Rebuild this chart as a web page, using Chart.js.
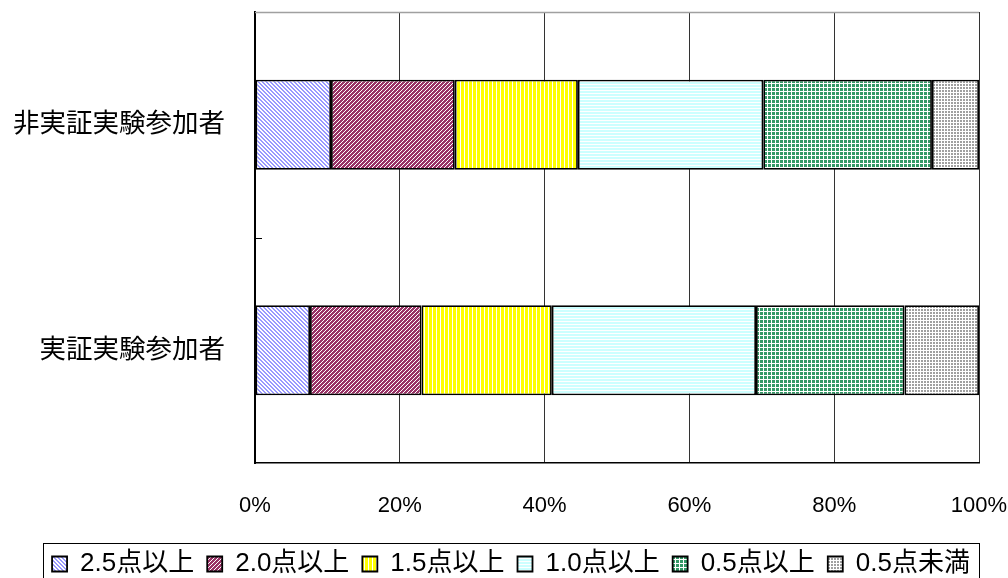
<!DOCTYPE html>
<html lang="ja">
<head>
<meta charset="utf-8">
<title>得点分布</title>
<script src="https://cdn.jsdelivr.net/npm/chart.js@4.4.1/dist/chart.umd.min.js"></script>
<style>
  html, body { margin: 0; padding: 0; background: #fff; }
  #wrap { width: 1008px; height: 578px; }
</style>
</head>
<body>
<div id="wrap"><canvas id="c" width="1008" height="578"></canvas></div>
<script>
// Categories (rows) and score bands (stack segments), values in percent
const categories = ['非実証実験参加者', '実証実験参加者'];
const seriesNames = ['2.5点以上', '2.0点以上', '1.5点以上', '1.0点以上', '0.5点以上', '0.5点未満'];
const score25 = [10.5, 7.6];
const score20 = [17.1, 15.4];
const score15 = [17.0, 18.0];
const score10 = [25.6, 28.2];
const score05 = [23.3, 20.5];
const scoreBelow05 = [6.5, 10.3];
const xTickValues = [0, 20, 40, 60, 80, 100];

// Small pixel tiles used as hatch fills
function makePattern(size, fg, bg, test) {
  const c = document.createElement('canvas');
  c.width = size; c.height = size;
  const g = c.getContext('2d');
  g.fillStyle = bg; g.fillRect(0, 0, size, size);
  g.fillStyle = fg;
  for (let y = 0; y < size; y++) {
    for (let x = 0; x < size; x++) {
      if (test(x, y)) g.fillRect(x, y, 1, 1);
    }
  }
  return g.createPattern(c, 'repeat');
}

const ctx = document.getElementById('c').getContext('2d');
const fills = [
  makePattern(4, '#9999ff', '#ffffff', (x, y) => ((x - y + 8) % 4) < 2),
  makePattern(4, '#993366', '#ffffff', (x, y) => ((x + y) % 4) < 3),
  makePattern(4, '#ffff00', '#ffffff', (x, y) => (x % 4) !== 0),
  makePattern(3, '#ccffff', '#ffffff', (x, y) => (y % 3) !== 0),
  makePattern(4, '#339966', '#ffffff', (x, y) => (x % 4) !== 3 && (y % 4) !== 3),
  makePattern(3, '#a0a0a0', '#ffffff', (x, y) => (x % 3) !== 2 && (y % 3) !== 2)
];

const seriesValues = [score25, score20, score15, score10, score05, scoreBelow05];

const fontFamily = "'Liberation Sans', Arial, 'Noto Sans CJK JP', sans-serif";

// Frame around the legend, top border of the plot and the inner category tick
const framePlugin = {
  id: 'frames',
  afterDraw(chart) {
    const c = chart.ctx;
    const area = chart.chartArea;
    const yScale = chart.scales.y;
    c.save();
    // top edge of the plot area
    c.strokeStyle = '#a0a0a0';
    c.lineWidth = 1.5;
    c.beginPath();
    c.moveTo(area.left, area.top + 0.5);
    c.lineTo(area.right, area.top + 0.5);
    c.stroke();
    // short inner tick between the two categories
    const midY = Math.round((yScale.getPixelForValue(0) + yScale.getPixelForValue(1)) / 2) + 0.5;
    c.strokeStyle = '#000';
    c.lineWidth = 1;
    c.beginPath();
    c.moveTo(area.left, midY);
    c.lineTo(area.left + 7, midY);
    c.stroke();
    // legend frame
    const boxes = chart.legend.legendHitBoxes;
    if (boxes && boxes.length) {
      const first = boxes[0];
      const last = boxes[boxes.length - 1];
      const l = Math.round(first.left - 9) + 0.5;
      const r = Math.round(last.left + last.width + 9) + 0.5;
      const t = Math.round(first.top - 8) + 0.5;
      c.strokeStyle = '#000';
      c.lineWidth = 1;
      c.strokeRect(l, t, r - l, chart.height + 4 - t);
    }
    c.restore();
  }
};

new Chart(ctx, {
  type: 'bar',
  data: {
    labels: categories,
    datasets: seriesNames.map((name, i) => ({
      label: name,
      data: seriesValues[i],
      backgroundColor: fills[i],
      borderColor: '#000000',
      borderWidth: 1.8,
      borderSkipped: false,
      categoryPercentage: 1.0,
      barPercentage: 0.4
    }))
  },
  options: {
    indexAxis: 'y',
    responsive: false,
    animation: false,
    devicePixelRatio: 1,
    layout: { padding: { left: 14, right: 0, top: 12, bottom: -9 } },
    scales: {
      x: {
        stacked: true,
        min: 0,
        max: 100,
        afterBuildTicks(scale) {
          scale.ticks = xTickValues.map(v => ({ value: v }));
        },
        afterFit(scale) {
          scale.height = 75;
          scale.paddingRight = 29;
        },
        grid: { color: '#333333', lineWidth: 1, drawTicks: false },
        border: { display: true, color: '#000000', width: 1.5 },
        ticks: {
          padding: 30,
          color: '#000000',
          font: { family: fontFamily, size: 22 },
          callback: v => v + '%'
        }
      },
      y: {
        stacked: true,
        afterFit(scale) {
          scale.width = 241;
          scale.paddingTop = 0;
          scale.paddingBottom = 0;
        },
        grid: { display: false, drawTicks: false },
        border: { display: true, color: '#000000', width: 2 },
        ticks: {
          padding: 30,
          color: '#000000',
          font: { family: fontFamily, size: 26.5 }
        }
      }
    },
    plugins: {
      legend: {
        position: 'bottom',
        labels: {
          boxWidth: 15,
          boxHeight: 15,
          padding: 13,
          color: '#000000',
          font: { family: fontFamily, size: 26 }
        }
      },
      tooltip: { enabled: false }
    }
  },
  plugins: [framePlugin]
});
</script>
</body>
</html>
